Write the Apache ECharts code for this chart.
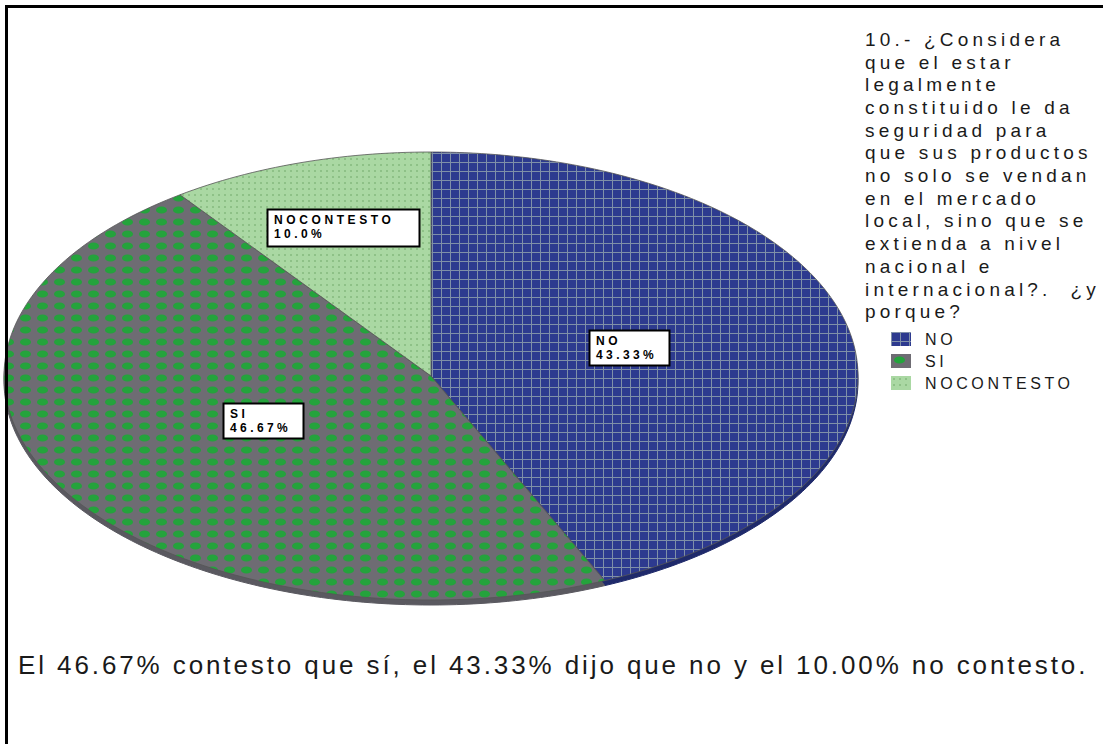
<!DOCTYPE html>
<html>
<head>
<meta charset="utf-8">
<script src="https://cdn.jsdelivr.net/npm/echarts@6/dist/echarts.min.js"></script>
<style>
  html, body { margin: 0; padding: 0; background: #fff; }
  #chart { width: 1103px; height: 744px; }
</style>
</head>
<body>
<div id="chart"></div>
<script>
// datos del gráfico
var categories = ['NO', 'SI', 'NOCONTESTO'];
var percents = [43.33, 46.67, 10.0];
var labelValues = ['43.33%', '46.67%', '10.0%'];
var titleLines = [
    '10.- ¿Considera',
    'que el estar',
    'legalmente',
    'constituido le da',
    'seguridad para',
    'que sus productos',
    'no solo se vendan',
    'en el mercado',
    'local, sino que se',
    'extienda a nivel',
    'nacional e',
    'internacional?.  ¿y',
    'porque?'
];
var footerText = 'El 46.67% contesto que sí, el 43.33% dijo que no y el 10.00% no contesto.';

// tramas de relleno (estilo SPSS)
function makePattern(w, h, draw) {
    var c = document.createElement('canvas');
    c.width = w;
    c.height = h;
    draw(c.getContext('2d'), w, h);
    return { image: c, repeat: 'repeat', imageWidth: w, imageHeight: h };
}
var fills = [
    makePattern(9, 9, function (ctx) {
        ctx.fillStyle = '#2d3a8f'; ctx.fillRect(0, 0, 9, 9);
        ctx.fillStyle = '#7f8fa8'; ctx.fillRect(0, 0, 9, 1); ctx.fillRect(0, 0, 1, 9);
    }),
    makePattern(17, 12, function (ctx) {
        ctx.fillStyle = '#6e6c73'; ctx.fillRect(0, 0, 17, 12);
        ctx.fillStyle = '#24a33c';
        ctx.beginPath(); ctx.ellipse(8.5, 6, 5.5, 3.6, 0, 0, Math.PI * 2); ctx.fill();
    }),
    makePattern(6, 6, function (ctx) {
        ctx.fillStyle = '#aad8a3'; ctx.fillRect(0, 0, 6, 6);
        ctx.fillStyle = '#8ec187'; ctx.fillRect(2, 2, 2, 2);
    })
];
var rimColors = ['#1f2a6b', '#5a5960', '#7ea879'];

// geometría de la elipse (pastel inclinado)
var cx = 431, cy = 376, rx = 427, ry = 224, depth = 5;
var labelRatio = [0.474, 0.454, 0.667];
var labelBox = [[80, 35], [80, 35], [152, 37]];

var total = percents.reduce(function (a, b) { return a + b; }, 0);

function arcPoints(a0, a1, dy) {
    var pts = [[cx, cy + dy]];
    var n = Math.max(8, Math.ceil((a1 - a0) / 0.02));
    for (var k = 0; k <= n; k++) {
        var t = a0 + (a1 - a0) * k / n;
        pts.push([cx + rx * Math.cos(t), cy + dy + ry * Math.sin(t)]);
    }
    return pts;
}

function makeRenderItem(i) {
    return function (params, api) {
        var v = api.value(0);
        var before = 0;
        for (var j = 0; j < i; j++) before += percents[j];
        var a0 = -Math.PI / 2 + before / total * Math.PI * 2;
        var a1 = a0 + v / total * Math.PI * 2;
        var mid = (a0 + a1) / 2;
        var lx = cx + labelRatio[i] * rx * Math.cos(mid);
        var ly = cy + labelRatio[i] * ry * Math.sin(mid) - 6;
        var bw = labelBox[i][0], bh = labelBox[i][1];
        return {
            type: 'group',
            children: [
                {
                    type: 'polygon', z2: 0,
                    shape: { points: arcPoints(a0, a1, depth) },
                    style: { fill: rimColors[i], stroke: rimColors[i], lineWidth: 1 }
                },
                {
                    type: 'polygon', z2: 10,
                    shape: { points: arcPoints(a0, a1, 0) },
                    style: { fill: fills[i], stroke: '#555', lineWidth: 0.8 }
                },
                {
                    type: 'rect', z2: 20,
                    shape: { x: Math.round(lx - bw / 2) + 0.5, y: Math.round(ly - bh / 2) + 0.5, width: bw, height: bh },
                    style: { fill: '#fff', stroke: '#000', lineWidth: 2 }
                },
                {
                    type: 'text', z2: 21,
                    x: Math.round(lx - bw / 2) + 7,
                    y: Math.round(ly - bh / 2) + 4,
                    style: {
                        text: categories[i] + '\n' + labelValues[i],
                        fill: '#000',
                        font: 'bold 12px "Liberation Sans", Arial, sans-serif',
                        lineHeight: 14,
                        textAlign: 'left',
                        textVerticalAlign: 'top'
                    }
                }
            ]
        };
    };
}

var chart = echarts.init(document.getElementById('chart'), null, { renderer: 'svg' });

var option = {
    backgroundColor: '#fff',
    animation: false,
    title: {
        text: titleLines.join('\n'),
        left: 865,
        top: 28,
        padding: 0,
        textStyle: {
            fontFamily: 'Liberation Sans',
            fontSize: 19,
            fontWeight: 'normal',
            lineHeight: 22.7,
            color: '#1a1a1a'
        }
    },
    legend: {
        orient: 'vertical',
        left: 891,
        top: 331,
        padding: 0,
        icon: 'rect',
        itemWidth: 20,
        itemHeight: 14,
        itemGap: 6,
        data: categories,
        textStyle: {
            fontFamily: 'Liberation Sans',
            fontSize: 16,
            color: '#1a1a1a',
            padding: [0, 0, 0, 9]
        }
    },
    graphic: [
        {
            type: 'rect', z: 100,
            shape: { x: 6.5, y: 6.5, width: 1200, height: 800 },
            style: { fill: 'none', stroke: '#000', lineWidth: 3 }
        },
        {
            type: 'text', z: 100,
            x: 18, y: 665,
            style: {
                text: footerText,
                fill: '#1a1a1a',
                font: '26px "Liberation Sans", Arial, sans-serif',
                textAlign: 'left',
                textVerticalAlign: 'middle'
            }
        }
    ],
    series: categories.map(function (name, i) {
        return {
            type: 'custom',
            name: name,
            coordinateSystem: 'none',
            silent: true,
            itemStyle: { color: fills[i] },
            data: [[percents[i]]],
            renderItem: makeRenderItem(i)
        };
    })
};

chart.setOption(option);

// espaciado de letras como en la imagen original
function spaceLetters() {
    var texts = document.querySelectorAll('#chart text');
    texts.forEach(function (el) {
        var s = el.textContent;
        var ls = null;
        if (titleLines.indexOf(s) >= 0) ls = '4.2px';
        else if (categories.indexOf(s) >= 0) ls = '3.6px';
        else if (labelValues.indexOf(s) >= 0) ls = '3.4px';
        else if (s === footerText) ls = '2.9px';
        if (ls) el.setAttribute('letter-spacing', ls);
    });
}
chart.on('finished', spaceLetters);
spaceLetters();
</script>
</body>
</html>
